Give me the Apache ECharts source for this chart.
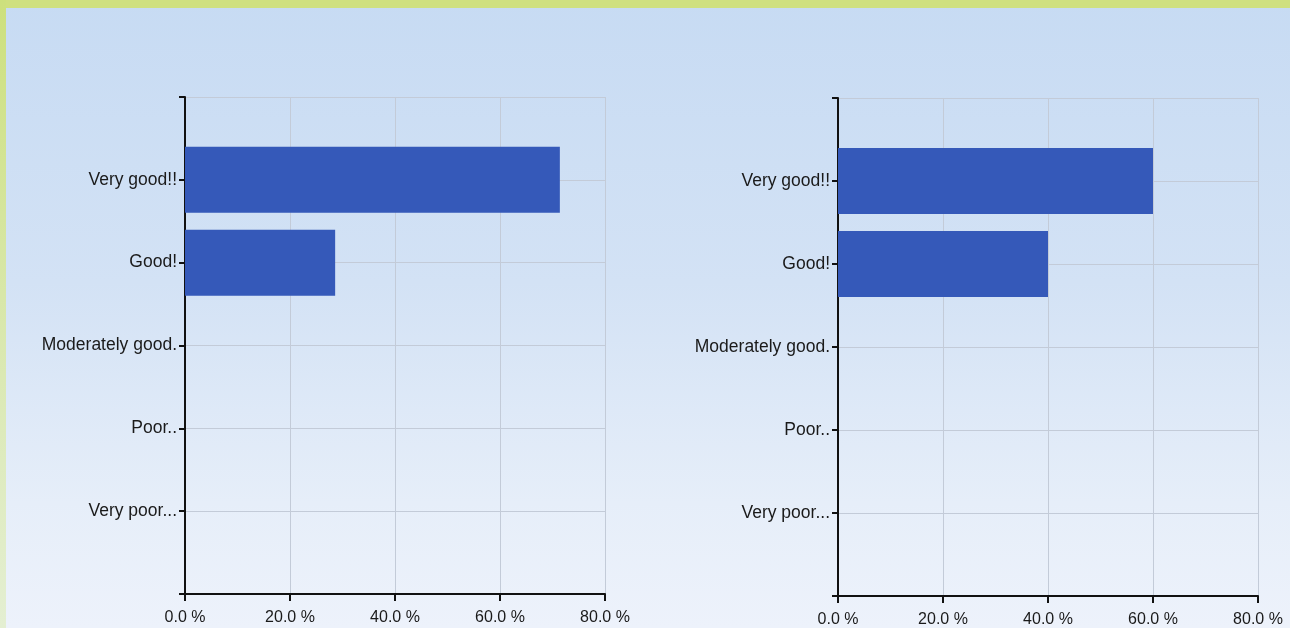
<!DOCTYPE html>
<html>
<head>
<meta charset="utf-8">
<script src="https://cdn.jsdelivr.net/npm/echarts@6/dist/echarts.min.js"></script>
<style>
  html, body { margin: 0; padding: 0; }
  #wrap {
    position: relative; width: 1290px; height: 628px; overflow: hidden;
    background: linear-gradient(to bottom, #c7dbf3 0%, #d3e2f5 45%, #e6eef9 80%, #edf2fb 100%);
  }
  #top { position: absolute; left: 0; top: 0; width: 1290px; height: 8px; background: #cfe07f; }
  #side { position: absolute; left: 0; top: 0; width: 6px; height: 628px;
    background: linear-gradient(to bottom, #cde07d, #dbe9b4 60%, #e4efd2); }
  #chart { position: absolute; left: 0; top: 0; width: 1290px; height: 628px; }
</style>
</head>
<body>
<div id="wrap">
  <div id="chart"></div>
  <div id="top"></div>
  <div id="side"></div>
</div>
<script>
// answer options (blank ends keep the empty space above and below)
var answers = ['', 'Very good!!', 'Good!', 'Moderately good.', 'Poor..', 'Very poor...', ''];
var leftValues = [null, 71.4, 28.6, 0, 0, 0, null];
var rightValues = [null, 60.0, 40.0, 0, 0, 0, null];
var percentTicks = [0, 20, 40, 60, 80];

var myChart = echarts.init(document.getElementById('chart'));

var font = 'Liberation Sans, Arial, sans-serif';
var gridLine = { show: true, lineStyle: { color: '#c3cbd8', width: 1 } };

function xAxisFor(gridIndex) {
    return {
        type: 'value',
        gridIndex: gridIndex,
        min: percentTicks[0],
        max: percentTicks[percentTicks.length - 1],
        interval: 20,
        axisLine: { show: true, lineStyle: { color: '#111', width: 2 } },
        axisTick: { show: true, length: 7, lineStyle: { color: '#111', width: 2 } },
        axisLabel: {
            margin: 16,
            color: '#1a1a1a', fontSize: 16, fontFamily: font,
            formatter: function (v) { return v.toFixed(1) + ' %'; }
        },
        splitLine: gridLine
    };
}

function yAxisFor(gridIndex) {
    return {
        type: 'category',
        gridIndex: gridIndex,
        data: answers,
        inverse: true,
        boundaryGap: false,
        axisLine: { show: true, lineStyle: { color: '#111', width: 2 } },
        axisTick: { show: true, length: 6, lineStyle: { color: '#111', width: 2 } },
        axisLabel: { margin: 8, color: '#1a1a1a', fontSize: 17.5, fontFamily: font },
        splitLine: gridLine
    };
}

function barsFor(idx, values) {
    return {
        type: 'bar',
        xAxisIndex: idx,
        yAxisIndex: idx,
        data: values,
        barWidth: 66,
        itemStyle: { color: '#3559b9', borderWidth: 0 },
        silent: true
    };
}

option = {
    animation: false,
    grid: [
        { left: 185, top: 97, width: 420, height: 497 },
        { left: 838, top: 98, width: 420, height: 498 }
    ],
    xAxis: [xAxisFor(0), xAxisFor(1)],
    yAxis: [yAxisFor(0), yAxisFor(1)],
    series: [barsFor(0, leftValues), barsFor(1, rightValues)]
};

myChart.setOption(option);
</script>
</body>
</html>
